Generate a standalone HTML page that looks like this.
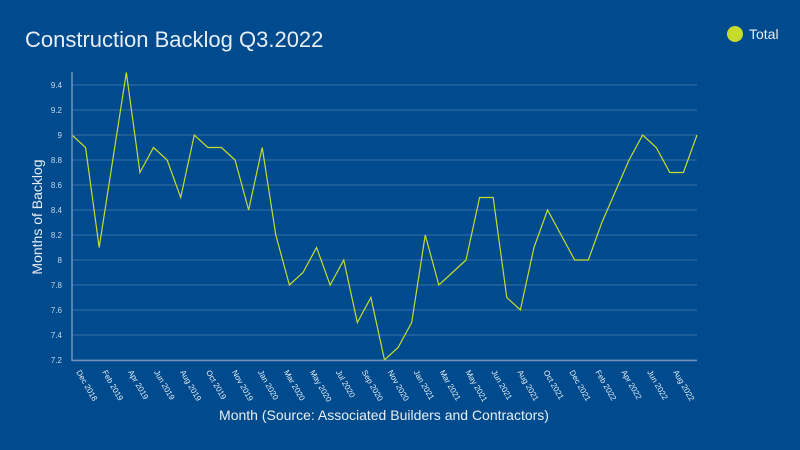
<!DOCTYPE html>
<html><head><meta charset="utf-8"><style>
body{margin:0;background:#004b8d;}
svg{display:block;font-family:"Liberation Sans","DejaVu Sans",sans-serif;}
</style></head><body>
<svg id="chart" width="800" height="450" viewBox="0 0 800 450">
<rect width="800" height="450" fill="#004b8d"/>
<text x="25" y="47" font-size="22" fill="#e8eef5">Construction Backlog Q3.2022</text>
<g>
<circle cx="735" cy="34" r="8" fill="#c5dc2c"/>
<text x="749" y="39" font-size="14" fill="#e8eef5">Total</text>
</g>
<text transform="translate(42,217) rotate(-90)" text-anchor="middle" font-size="14" fill="#e8eef5">Months of Backlog</text>
<text x="384" y="420" text-anchor="middle" font-size="14" fill="#e8eef5">Month (Source: Associated Builders and Contractors)</text>
<g id="grid"></g><g id="yt"></g><g id="xt"></g><g id="series"></g>
<line x1="72" y1="72" x2="72" y2="361" stroke="#6f93bd" stroke-width="1.5"/>
<line x1="72" y1="360.5" x2="697" y2="360.5" stroke="#6f93bd" stroke-width="1.5"/>
</svg>
<script>
const values=[9.0,8.9,8.1,8.8,9.5,8.7,8.9,8.8,8.5,9.0,8.9,8.9,8.8,8.4,8.9,8.2,7.8,7.9,8.1,7.8,8.0,7.5,7.7,7.2,7.3,7.5,8.2,7.8,7.9,8.0,8.5,8.5,7.7,7.6,8.1,8.4,8.2,8.0,8.0,8.3,8.55,8.8,9.0,8.9,8.7,8.7,9.0];
const xLabels=["Dec 2018","Feb 2019","Apr 2019","Jun 2019","Aug 2019","Oct 2019","Nov 2019","Jan 2020","Mar 2020","May 2020","Jul 2020","Sep 2020","Nov 2020","Jan 2021","Mar 2021","May 2021","Jun 2021","Aug 2021","Oct 2021","Dec 2021","Feb 2022","Apr 2022","Jun 2022","Aug 2022"];
const yTicks=[7.2,7.4,7.6,7.8,8,8.2,8.4,8.6,8.8,9,9.2,9.4];
const NS="http://www.w3.org/2000/svg";
const x0=72,x1=697,yMin=7.2,yMax=9.4,yB=360,yT=85;
const ys=v=>yB-(v-yMin)/(yMax-yMin)*(yB-yT);
const xs=i=>x0+i*(x1-x0)/(values.length-1);
const g=document.getElementById('grid'),yt=document.getElementById('yt'),xt=document.getElementById('xt'),s=document.getElementById('series');
yTicks.forEach(v=>{
 const l=document.createElementNS(NS,'line');
 
 
 l.setAttribute('x1',x0);l.setAttribute('x2',x1);l.setAttribute('y1',ys(v));l.setAttribute('y2',ys(v));
 l.setAttribute('stroke','#3a6fa6');l.setAttribute('stroke-width','1');g.appendChild(l);
 const t=document.createElementNS(NS,'text');
 
 
 t.setAttribute('x',62);t.setAttribute('y',ys(v)+3);t.setAttribute('text-anchor','end');
 t.setAttribute('font-size','8');t.setAttribute('fill','#c8d6e6');t.textContent=String(v);yt.appendChild(t);
});
const step=(669-x0)/(xLabels.length-1);
xLabels.forEach((lab,i)=>{
 const t=document.createElementNS(NS,'text');
 
 
 const x=x0+4+i*step;
 t.setAttribute('transform','translate('+x+',372) rotate(60)');
 t.setAttribute('font-size','8');t.setAttribute('fill','#e8eef5');t.textContent=lab;xt.appendChild(t);
});
const p=document.createElementNS(NS,'polyline');


p.setAttribute('points',values.map((v,i)=>xs(i)+','+ys(v)).join(' '));
p.setAttribute('fill','none');p.setAttribute('stroke','#c5dc2c');p.setAttribute('stroke-width','1.2');
s.appendChild(p);
</script>
</body></html>
